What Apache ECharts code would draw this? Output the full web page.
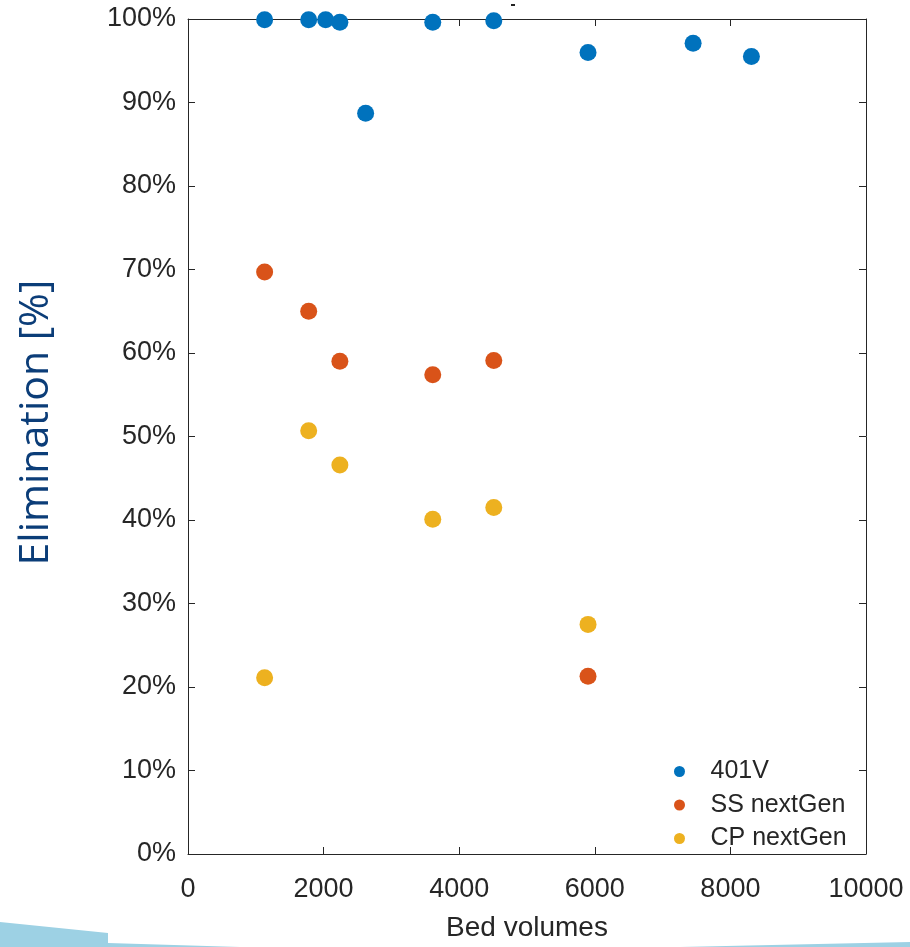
<!DOCTYPE html>
<html>
<head>
<meta charset="utf-8">
<script src="https://cdn.jsdelivr.net/npm/echarts@6/dist/echarts.min.js"></script>
<style>html,body{margin:0;padding:0;background:#fff;}#c{width:910px;height:947px;}</style>
</head>
<body>
<div id="c"></div>
<script>
const seriesNames = ['401V', 'SS nextGen', 'CP nextGen'];
const x401V = [1130, 1780, 2030, 2240, 2620, 3610, 4510, 5900, 7450, 8310];
const y401V = [99.9, 99.9, 99.9, 99.6, 88.7, 99.6, 99.8, 96.0, 97.1, 95.5];
const xSS = [1130, 1780, 2240, 3610, 4510, 5900];
const ySS = [69.7, 65.0, 59.0, 57.4, 59.1, 21.3];
const xCP = [1130, 1780, 2240, 3610, 4510, 5900];
const yCP = [21.1, 50.7, 46.6, 40.1, 41.5, 27.5];
const colors = ['#0072BD', '#D95319', '#EDB120'];

const pair = (xs, ys) => xs.map((x, i) => [x, ys[i]]);
const chart = echarts.init(document.getElementById('c'), null, {renderer: 'canvas'});
const axisCol = '#262626';
const lab = {color: axisCol, fontFamily: 'Liberation Sans, Arial, sans-serif', fontSize: 27};
chart.setOption({
  animation: false,
  grid: {left: 188, right: 44, top: 19, bottom: 84, containLabel: false},
  xAxis: [
    {type: 'value', min: 0, max: 10000, interval: 2000, position: 'bottom',
     axisLine: {show: true, onZero: false, lineStyle: {color: axisCol, width: 1}},
     axisTick: {show: true, inside: true, length: 7, lineStyle: {color: axisCol}},
     axisLabel: Object.assign({margin: 22, formatter: v => String(v)}, lab),
     splitLine: {show: false},
     name: 'Bed volumes', nameLocation: 'middle', nameGap: 60,
     nameTextStyle: {color: axisCol, fontFamily: 'Liberation Sans, Arial, sans-serif', fontSize: 28}},
    {type: 'value', min: 0, max: 10000, interval: 2000, position: 'top',
     axisLine: {show: true, onZero: false, lineStyle: {color: axisCol, width: 1}},
     axisTick: {show: true, inside: true, length: 7, lineStyle: {color: axisCol}},
     axisLabel: {show: false}, splitLine: {show: false}}
  ],
  yAxis: [
    {type: 'value', min: 0, max: 100, interval: 10, position: 'left',
     axisLine: {show: true, onZero: false, lineStyle: {color: axisCol, width: 1}},
     axisTick: {show: true, inside: true, length: 7, lineStyle: {color: axisCol}},
     axisLabel: Object.assign({margin: 12, formatter: '{value}%'}, lab),
     splitLine: {show: false},
     name: 'Elimination [%]', nameLocation: 'middle', nameGap: 131, nameRotate: 90,
     nameTextStyle: {color: '#0B3D78', fontFamily: 'Open Sans, Noto Sans, sans-serif', fontSize: 41, padding: [0, 0, 0, 28]}},
    {type: 'value', min: 0, max: 100, interval: 10, position: 'right',
     axisLine: {show: true, onZero: false, lineStyle: {color: axisCol, width: 1}},
     axisTick: {show: true, inside: true, length: 7, lineStyle: {color: axisCol}},
     axisLabel: {show: false}, splitLine: {show: false}}
  ],
  legend: {
    orient: 'vertical', left: 669, top: 754,
    itemWidth: 52, itemHeight: 11, itemGap: 8.5,
    icon: 'circle',
    textStyle: {color: axisCol, fontFamily: 'Liberation Sans, Arial, sans-serif', fontSize: 25, lineHeight: 25},
    data: seriesNames
  },
  series: [
    {name: seriesNames[0], type: 'scatter', symbolSize: 17, itemStyle: {color: colors[0], opacity: 1}, data: pair(x401V, y401V), z: 3},
    {name: seriesNames[1], type: 'scatter', symbolSize: 17, itemStyle: {color: colors[1], opacity: 1}, data: pair(xSS, ySS), z: 4},
    {name: seriesNames[2], type: 'scatter', symbolSize: 17, itemStyle: {color: colors[2], opacity: 1}, data: pair(xCP, yCP), z: 5}
  ],
  graphic: [
    {type: 'polygon', shape: {points: [[0, 922], [108, 933], [108, 943], [240, 947], [0, 947]]}, style: {fill: '#9DD1E4'}, z: -1},
    {type: 'polygon', shape: {points: [[680, 947], [910, 942], [910, 947]]}, style: {fill: '#9DD1E4'}, z: -1},
    {type: 'rect', shape: {x: 511, y: 4, width: 4, height: 2}, style: {fill: '#222'}}
  ]
});
</script>
</body>
</html>
